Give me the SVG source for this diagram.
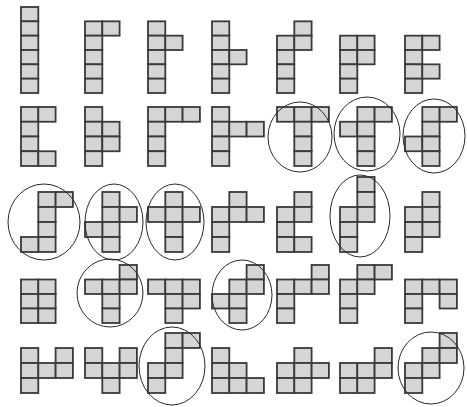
<svg xmlns="http://www.w3.org/2000/svg" width="467" height="407" viewBox="0 0 467 407">
<style>
.c{fill:#d5d5d5;stroke:#3a3a3a;stroke-width:1.8}
.o{fill:none;stroke:#2a2a2a;stroke-width:1}
</style>
<rect width="467" height="407" fill="#ffffff"/>
<!-- Row 1: h=14.33, rows y: 7,21.33,35.67,50,64.33,78.67 -->
<g id="p1">
<rect class="c" x="21" y="7" width="17.3" height="14.33"/><rect class="c" x="21" y="21.33" width="17.3" height="14.33"/><rect class="c" x="21" y="35.67" width="17.3" height="14.33"/><rect class="c" x="21" y="50" width="17.3" height="14.33"/><rect class="c" x="21" y="64.33" width="17.3" height="14.33"/><rect class="c" x="21" y="78.67" width="17.3" height="14.33"/>
</g>
<g id="p2">
<rect class="c" x="85" y="21.33" width="17.3" height="14.33"/><rect class="c" x="85" y="35.67" width="17.3" height="14.33"/><rect class="c" x="85" y="50" width="17.3" height="14.33"/><rect class="c" x="85" y="64.33" width="17.3" height="14.33"/><rect class="c" x="85" y="78.67" width="17.3" height="14.33"/><rect class="c" x="102.3" y="21.33" width="17.3" height="14.33"/>
</g>
<g id="p3">
<rect class="c" x="148" y="21.33" width="17.3" height="14.33"/><rect class="c" x="148" y="35.67" width="17.3" height="14.33"/><rect class="c" x="148" y="50" width="17.3" height="14.33"/><rect class="c" x="148" y="64.33" width="17.3" height="14.33"/><rect class="c" x="148" y="78.67" width="17.3" height="14.33"/><rect class="c" x="165.3" y="35.67" width="17.3" height="14.33"/>
</g>
<g id="p4">
<rect class="c" x="212" y="21.33" width="17.3" height="14.33"/><rect class="c" x="212" y="35.67" width="17.3" height="14.33"/><rect class="c" x="212" y="50" width="17.3" height="14.33"/><rect class="c" x="212" y="64.33" width="17.3" height="14.33"/><rect class="c" x="212" y="78.67" width="17.3" height="14.33"/><rect class="c" x="229.3" y="50" width="17.3" height="14.33"/>
</g>
<g id="p5">
<rect class="c" x="277" y="35.67" width="17.3" height="14.33"/><rect class="c" x="277" y="50" width="17.3" height="14.33"/><rect class="c" x="277" y="64.33" width="17.3" height="14.33"/><rect class="c" x="277" y="78.67" width="17.3" height="14.33"/><rect class="c" x="294.3" y="21.33" width="17.3" height="14.33"/><rect class="c" x="294.3" y="35.67" width="17.3" height="14.33"/>
</g>
<g id="p6">
<rect class="c" x="340" y="35.67" width="17.3" height="14.33"/><rect class="c" x="340" y="50" width="17.3" height="14.33"/><rect class="c" x="340" y="64.33" width="17.3" height="14.33"/><rect class="c" x="340" y="78.67" width="17.3" height="14.33"/><rect class="c" x="357.3" y="35.67" width="17.3" height="14.33"/><rect class="c" x="357.3" y="50" width="17.3" height="14.33"/>
</g>
<g id="p7">
<rect class="c" x="405" y="35.67" width="17.3" height="14.33"/><rect class="c" x="405" y="50" width="17.3" height="14.33"/><rect class="c" x="405" y="64.33" width="17.3" height="14.33"/><rect class="c" x="405" y="78.67" width="17.3" height="14.33"/><rect class="c" x="422.3" y="35.67" width="17.3" height="14.33"/><rect class="c" x="422.3" y="64.33" width="17.3" height="14.33"/>
</g>
<!-- Row 2: h=14.75, rows y: 107,121.75,136.5,151.25 -->
<g id="p8">
<rect class="c" x="21" y="107" width="17.3" height="14.75"/><rect class="c" x="21" y="121.75" width="17.3" height="14.75"/><rect class="c" x="21" y="136.5" width="17.3" height="14.75"/><rect class="c" x="21" y="151.25" width="17.3" height="14.75"/><rect class="c" x="38.3" y="107" width="17.3" height="14.75"/><rect class="c" x="38.3" y="151.25" width="17.3" height="14.75"/>
</g>
<g id="p9">
<rect class="c" x="85" y="107" width="17.3" height="14.75"/><rect class="c" x="85" y="121.75" width="17.3" height="14.75"/><rect class="c" x="85" y="136.5" width="17.3" height="14.75"/><rect class="c" x="85" y="151.25" width="17.3" height="14.75"/><rect class="c" x="102.3" y="121.75" width="17.3" height="14.75"/><rect class="c" x="102.3" y="136.5" width="17.3" height="14.75"/>
</g>
<g id="p10">
<rect class="c" x="148" y="107" width="17.3" height="14.75"/><rect class="c" x="148" y="121.75" width="17.3" height="14.75"/><rect class="c" x="148" y="136.5" width="17.3" height="14.75"/><rect class="c" x="148" y="151.25" width="17.3" height="14.75"/><rect class="c" x="165.3" y="107" width="17.3" height="14.75"/><rect class="c" x="182.6" y="107" width="17.3" height="14.75"/>
</g>
<g id="p11">
<rect class="c" x="212" y="107" width="17.3" height="14.75"/><rect class="c" x="212" y="121.75" width="17.3" height="14.75"/><rect class="c" x="212" y="136.5" width="17.3" height="14.75"/><rect class="c" x="212" y="151.25" width="17.3" height="14.75"/><rect class="c" x="229.3" y="121.75" width="17.3" height="14.75"/><rect class="c" x="246.6" y="121.75" width="17.3" height="14.75"/>
</g>
<g id="p12">
<rect class="c" x="277" y="107" width="17.3" height="14.75"/><rect class="c" x="294.3" y="107" width="17.3" height="14.75"/><rect class="c" x="311.6" y="107" width="17.3" height="14.75"/><rect class="c" x="294.3" y="121.75" width="17.3" height="14.75"/><rect class="c" x="294.3" y="136.5" width="17.3" height="14.75"/><rect class="c" x="294.3" y="151.25" width="17.3" height="14.75"/>
<ellipse class="o" cx="300" cy="137" rx="32" ry="35"/>
</g>
<g id="p13">
<rect class="c" x="340" y="121.75" width="17.3" height="14.75"/><rect class="c" x="357.3" y="107" width="17.3" height="14.75"/><rect class="c" x="357.3" y="121.75" width="17.3" height="14.75"/><rect class="c" x="357.3" y="136.5" width="17.3" height="14.75"/><rect class="c" x="357.3" y="151.25" width="17.3" height="14.75"/><rect class="c" x="374.6" y="107" width="17.3" height="14.75"/>
<ellipse class="o" cx="367" cy="134" rx="33" ry="37"/>
</g>
<g id="p14">
<rect class="c" x="405" y="136.5" width="17.3" height="14.75"/><rect class="c" x="422.3" y="107" width="17.3" height="14.75"/><rect class="c" x="422.3" y="121.75" width="17.3" height="14.75"/><rect class="c" x="422.3" y="136.5" width="17.3" height="14.75"/><rect class="c" x="422.3" y="151.25" width="17.3" height="14.75"/><rect class="c" x="439.6" y="107" width="17.3" height="14.75"/>
<ellipse class="o" cx="434" cy="136" rx="31" ry="37"/>
</g>
<!-- Row 3: h=15, rows y: 177,192,207,222,237 -->
<g id="p15">
<rect class="c" x="38.3" y="192" width="17.3" height="15"/><rect class="c" x="38.3" y="207" width="17.3" height="15"/><rect class="c" x="38.3" y="222" width="17.3" height="15"/><rect class="c" x="38.3" y="237" width="17.3" height="15"/><rect class="c" x="55.6" y="192" width="17.3" height="15"/><rect class="c" x="21" y="237" width="17.3" height="15"/>
<ellipse class="o" cx="44" cy="222" rx="36" ry="38"/>
</g>
<g id="p16">
<rect class="c" x="102.3" y="192" width="17.3" height="15"/><rect class="c" x="102.3" y="207" width="17.3" height="15"/><rect class="c" x="102.3" y="222" width="17.3" height="15"/><rect class="c" x="102.3" y="237" width="17.3" height="15"/><rect class="c" x="119.6" y="207" width="17.3" height="15"/><rect class="c" x="85" y="222" width="17.3" height="15"/>
<ellipse class="o" cx="114" cy="222" rx="29" ry="38"/>
</g>
<g id="p17">
<rect class="c" x="165.3" y="192" width="17.3" height="15"/><rect class="c" x="165.3" y="207" width="17.3" height="15"/><rect class="c" x="165.3" y="222" width="17.3" height="15"/><rect class="c" x="165.3" y="237" width="17.3" height="15"/><rect class="c" x="148" y="207" width="17.3" height="15"/><rect class="c" x="182.6" y="207" width="17.3" height="15"/>
<ellipse class="o" cx="175" cy="222" rx="29" ry="38"/>
</g>
<g id="p18">
<rect class="c" x="212" y="207" width="17.3" height="15"/><rect class="c" x="212" y="222" width="17.3" height="15"/><rect class="c" x="212" y="237" width="17.3" height="15"/><rect class="c" x="229.3" y="192" width="17.3" height="15"/><rect class="c" x="229.3" y="207" width="17.3" height="15"/><rect class="c" x="246.6" y="207" width="17.3" height="15"/>
</g>
<g id="p19">
<rect class="c" x="277" y="207" width="17.3" height="15"/><rect class="c" x="277" y="222" width="17.3" height="15"/><rect class="c" x="277" y="237" width="17.3" height="15"/><rect class="c" x="294.3" y="192" width="17.3" height="15"/><rect class="c" x="294.3" y="207" width="17.3" height="15"/><rect class="c" x="294.3" y="237" width="17.3" height="15"/>
</g>
<g id="p20">
<rect class="c" x="357.3" y="177" width="17.3" height="15"/><rect class="c" x="357.3" y="192" width="17.3" height="15"/><rect class="c" x="357.3" y="207" width="17.3" height="15"/><rect class="c" x="340" y="207" width="17.3" height="15"/><rect class="c" x="340" y="222" width="17.3" height="15"/><rect class="c" x="340" y="237" width="17.3" height="15"/>
<ellipse class="o" cx="360" cy="216" rx="30" ry="41"/>
</g>
<g id="p21">
<rect class="c" x="422.3" y="192" width="17.3" height="15"/><rect class="c" x="422.3" y="207" width="17.3" height="15"/><rect class="c" x="422.3" y="222" width="17.3" height="15"/><rect class="c" x="405" y="207" width="17.3" height="15"/><rect class="c" x="405" y="222" width="17.3" height="15"/><rect class="c" x="405" y="237" width="17.3" height="15"/>
</g>
<!-- Row 4: h=14.5, rows y: 265,279.5,294,308.5 -->
<g id="p22">
<rect class="c" x="21" y="279.5" width="17.3" height="14.5"/><rect class="c" x="21" y="294" width="17.3" height="14.5"/><rect class="c" x="21" y="308.5" width="17.3" height="14.5"/><rect class="c" x="38.3" y="279.5" width="17.3" height="14.5"/><rect class="c" x="38.3" y="294" width="17.3" height="14.5"/><rect class="c" x="38.3" y="308.5" width="17.3" height="14.5"/>
</g>
<g id="p23">
<rect class="c" x="119.6" y="265" width="17.3" height="14.5"/><rect class="c" x="85" y="279.5" width="17.3" height="14.5"/><rect class="c" x="102.3" y="279.5" width="17.3" height="14.5"/><rect class="c" x="119.6" y="279.5" width="17.3" height="14.5"/><rect class="c" x="102.3" y="294" width="17.3" height="14.5"/><rect class="c" x="102.3" y="308.5" width="17.3" height="14.5"/>
<ellipse class="o" cx="110" cy="293" rx="33" ry="34"/>
</g>
<g id="p24">
<rect class="c" x="148" y="279.5" width="17.3" height="14.5"/><rect class="c" x="165.3" y="279.5" width="17.3" height="14.5"/><rect class="c" x="182.6" y="279.5" width="17.3" height="14.5"/><rect class="c" x="165.3" y="294" width="17.3" height="14.5"/><rect class="c" x="182.6" y="294" width="17.3" height="14.5"/><rect class="c" x="165.3" y="308.5" width="17.3" height="14.5"/>
</g>
<g id="p25">
<rect class="c" x="246.6" y="265" width="17.3" height="14.5"/><rect class="c" x="229.3" y="279.5" width="17.3" height="14.5"/><rect class="c" x="246.6" y="279.5" width="17.3" height="14.5"/><rect class="c" x="212" y="294" width="17.3" height="14.5"/><rect class="c" x="229.3" y="294" width="17.3" height="14.5"/><rect class="c" x="229.3" y="308.5" width="17.3" height="14.5"/>
<ellipse class="o" cx="242" cy="295" rx="30" ry="35"/>
</g>
<g id="p26">
<rect class="c" x="311.6" y="265" width="17.3" height="14.5"/><rect class="c" x="277" y="279.5" width="17.3" height="14.5"/><rect class="c" x="294.3" y="279.5" width="17.3" height="14.5"/><rect class="c" x="311.6" y="279.5" width="17.3" height="14.5"/><rect class="c" x="277" y="294" width="17.3" height="14.5"/><rect class="c" x="277" y="308.5" width="17.3" height="14.5"/>
</g>
<g id="p27">
<rect class="c" x="357.3" y="265" width="17.3" height="14.5"/><rect class="c" x="374.6" y="265" width="17.3" height="14.5"/><rect class="c" x="340" y="279.5" width="17.3" height="14.5"/><rect class="c" x="357.3" y="279.5" width="17.3" height="14.5"/><rect class="c" x="340" y="294" width="17.3" height="14.5"/><rect class="c" x="340" y="308.5" width="17.3" height="14.5"/>
</g>
<g id="p28">
<rect class="c" x="405" y="279.5" width="17.3" height="14.5"/><rect class="c" x="422.3" y="279.5" width="17.3" height="14.5"/><rect class="c" x="439.6" y="279.5" width="17.3" height="14.5"/><rect class="c" x="405" y="294" width="17.3" height="14.5"/><rect class="c" x="439.6" y="294" width="17.3" height="14.5"/><rect class="c" x="405" y="308.5" width="17.3" height="14.5"/>
</g>
<!-- Row 5: h=15, rows y: 333,348,363,378 -->
<g id="p29">
<rect class="c" x="21" y="348" width="17.3" height="15"/><rect class="c" x="21" y="363" width="17.3" height="15"/><rect class="c" x="21" y="378" width="17.3" height="15"/><rect class="c" x="38.3" y="363" width="17.3" height="15"/><rect class="c" x="55.6" y="348" width="17.3" height="15"/><rect class="c" x="55.6" y="363" width="17.3" height="15"/>
</g>
<g id="p30">
<rect class="c" x="85" y="348" width="17.3" height="15"/><rect class="c" x="85" y="363" width="17.3" height="15"/><rect class="c" x="102.3" y="363" width="17.3" height="15"/><rect class="c" x="102.3" y="378" width="17.3" height="15"/><rect class="c" x="119.6" y="348" width="17.3" height="15"/><rect class="c" x="119.6" y="363" width="17.3" height="15"/>
</g>
<g id="p31">
<rect class="c" x="165.3" y="333" width="17.3" height="15"/><rect class="c" x="182.6" y="333" width="17.3" height="15"/><rect class="c" x="165.3" y="348" width="17.3" height="15"/><rect class="c" x="148" y="363" width="17.3" height="15"/><rect class="c" x="165.3" y="363" width="17.3" height="15"/><rect class="c" x="148" y="378" width="17.3" height="15"/>
<ellipse class="o" cx="172" cy="366" rx="33" ry="39"/>
</g>
<g id="p32">
<rect class="c" x="212" y="348" width="17.3" height="15"/><rect class="c" x="212" y="363" width="17.3" height="15"/><rect class="c" x="212" y="378" width="17.3" height="15"/><rect class="c" x="229.3" y="363" width="17.3" height="15"/><rect class="c" x="229.3" y="378" width="17.3" height="15"/><rect class="c" x="246.6" y="378" width="17.3" height="15"/>
</g>
<g id="p33">
<rect class="c" x="294.3" y="348" width="17.3" height="15"/><rect class="c" x="277" y="363" width="17.3" height="15"/><rect class="c" x="294.3" y="363" width="17.3" height="15"/><rect class="c" x="311.6" y="363" width="17.3" height="15"/><rect class="c" x="277" y="378" width="17.3" height="15"/><rect class="c" x="294.3" y="378" width="17.3" height="15"/>
</g>
<g id="p34">
<rect class="c" x="374.6" y="348" width="17.3" height="15"/><rect class="c" x="340" y="363" width="17.3" height="15"/><rect class="c" x="357.3" y="363" width="17.3" height="15"/><rect class="c" x="374.6" y="363" width="17.3" height="15"/><rect class="c" x="340" y="378" width="17.3" height="15"/><rect class="c" x="357.3" y="378" width="17.3" height="15"/>
</g>
<g id="p35">
<rect class="c" x="439.6" y="333" width="17.3" height="15"/><rect class="c" x="422.3" y="348" width="17.3" height="15"/><rect class="c" x="439.6" y="348" width="17.3" height="15"/><rect class="c" x="405" y="363" width="17.3" height="15"/><rect class="c" x="422.3" y="363" width="17.3" height="15"/><rect class="c" x="405" y="378" width="17.3" height="15"/>
<ellipse class="o" cx="431" cy="368" rx="33" ry="36"/>
</g>
<g id="connectors"></g>
</svg>
